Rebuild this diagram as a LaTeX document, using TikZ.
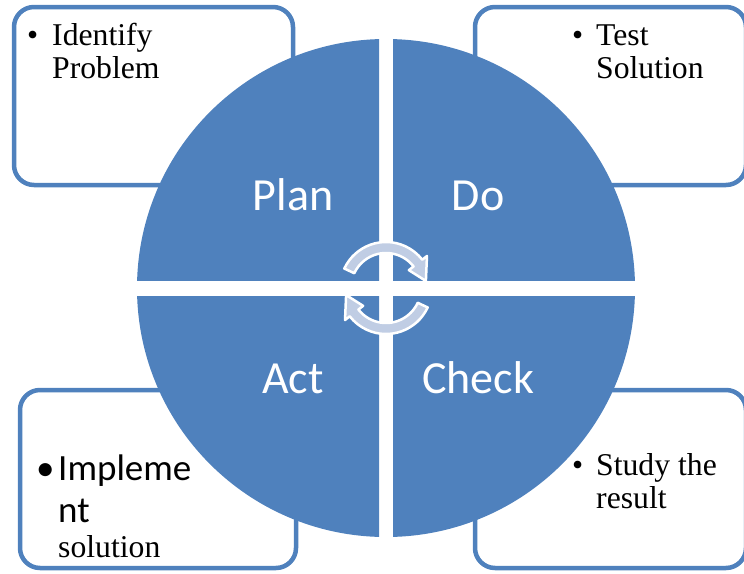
\documentclass[tikz,border=0pt]{standalone}
\usepackage{fontspec}
\setmainfont{Liberation Serif}
\newfontfamily\calibri{Carlito}
\usetikzlibrary{positioning}
\definecolor{kek}{RGB}{79,129,189}
\definecolor{halvany}{RGB}{192,205,228}
\tikzset{
  negyed/.style={fill=kek},
  doboz/.style={draw=kek,line width=4.5pt,rounded corners=20pt,fill=white,
    minimum width=279pt,minimum height=178pt,inner sep=0pt},
  felirat/.style={font={\calibri\fontsize{46}{50}\selectfont},text=white,anchor=base,inner sep=0pt},
  szoveg/.style={font={\fontsize{31.7}{33}\selectfont},anchor=base west,inner sep=0pt},
  nagy/.style={font={\calibri\fontsize{37}{42}\selectfont},anchor=base west,inner sep=0pt},
  nyil/.style={fill=halvany,draw=white,line width=2.5pt,line join=round},
}
\begin{document}
\begin{tikzpicture}[x=1pt,y=1pt]
  \useasboundingbox (0,0) rectangle (744,-573);
  % dobozok a kor mogott
  \node[doboz] (planbox) at (153.5,-96) {};
  \node[doboz,minimum width=271pt] (dobox) at (610.5,-96) {};
  \node[doboz,minimum width=276pt] (actbox) at (158,-479) {};
  \node[doboz,minimum width=271pt] (checkbox) at (610.5,-479) {};
  % negyedek
  \coordinate (c) at (386,-288);
  \foreach \sx/\sy in {-1/1,1/1,-1/-1,1/-1}{
    \begin{scope}
      \clip ([shift={(\sx*7,\sy*8)}]c) rectangle ([shift={(\sx*260,\sy*260)}]c);
      \fill[negyed] (c) circle (249);
    \end{scope}
  }
  % korkoros nyilak
  \begin{scope}[shift={(c)}]
    \draw[nyil] (155:46) arc[start angle=155,end angle=38,radius=46] -- (38:52)
      -- (10:40.5) -- (38:29) -- (38:35) arc[start angle=38,end angle=155,radius=35] -- cycle;
    \draw[nyil] (-25:46) arc[start angle=-25,end angle=-142,radius=46] -- (-142:52)
      -- (-170:40.5) -- (-142:29) -- (-142:35) arc[start angle=-142,end angle=-25,radius=35] -- cycle;
  \end{scope}
  % feliratok
  \node[felirat] (plan) at (293,-210) {Plan};
  \node[felirat] (do) at (478,-210) {Do};
  \node[felirat] (act) at (293,-393) {Act};
  \node[felirat] (check) at (478,-393) {Check};
  % szovegek
  \node[szoveg] (pdot) at (27,-45) {\textbullet};
  \node[szoveg] (p1) at (52,-45) {Identify};
  \node[szoveg] (p2) at (52,-78) {Problem};
  \node[szoveg] (ddot) at (572,-45) {\textbullet};
  \node[szoveg] (d1) at (596,-45) {Test};
  \node[szoveg] (d2) at (596,-78) {Solution};
  \node[szoveg] (cdot) at (572,-475) {\textbullet};
  \node[szoveg] (c1) at (596,-475) {Study the};
  \node[szoveg] (c2) at (596,-508) {result};
  \node[nagy] (adot) at (36,-480) {\textbullet};
  \node[nagy] (a1) at (58,-480) {Impleme};
  \node[nagy] (a2) at (58,-522) {nt};
  \node[szoveg] (a3) at (58,-557) {solution};
\end{tikzpicture}
\end{document}
